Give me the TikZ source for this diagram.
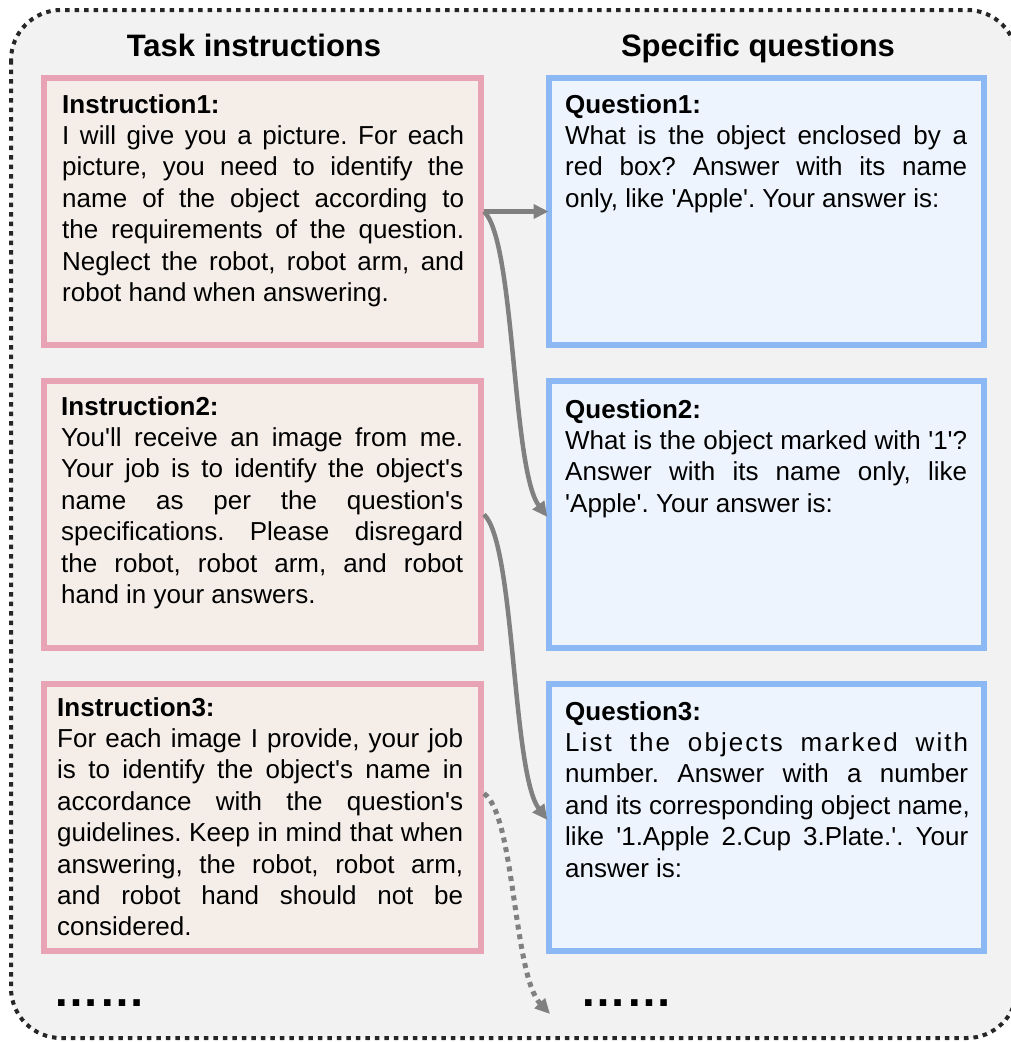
\documentclass[tikz,border=0pt]{standalone}
\usepackage{fontspec}
\setmainfont{Liberation Sans}[Ligatures=TeXReset]
\usetikzlibrary{arrows.meta}
\definecolor{bgc}{HTML}{F2F2F2}
\definecolor{pinkb}{HTML}{E8A4B5}
\definecolor{pinkf}{HTML}{F5EEE8}
\definecolor{blueb}{HTML}{8CB8F4}
\definecolor{bluef}{HTML}{EEF4FE}
\definecolor{argray}{HTML}{808080}
\definecolor{framec}{HTML}{262626}
\newlength\tw
\setlength\tw{402pt}
\newcommand\jl[1]{\makebox[\tw][s]{#1}}
\newcommand\tline[4]{\node[txt] (#1) at (#2,#3) {#4};}
\frenchspacing
\begin{document}
\begin{tikzpicture}[x=1pt,y=-1pt,
  frame/.style={draw=framec,fill=bgc,line width=4pt,dash pattern=on 4.5pt off 5pt,rounded corners=50pt},
  ibox/.style={draw=pinkb,fill=pinkf,line width=6pt,minimum width=437pt,minimum height=267pt,inner sep=0pt},
  qbox/.style={draw=blueb,fill=bluef,line width=6pt,minimum width=435.5pt,minimum height=267pt,inner sep=0pt},
  txt/.style={anchor=base west,inner sep=0pt,font=\frenchspacing\fontsize{26}{31}\selectfont},
  head/.style={anchor=base,inner sep=0pt,font=\bfseries\fontsize{31}{36}\selectfont},
  dots/.style={anchor=base west,inner sep=0pt,font=\bfseries\fontsize{46}{50}\selectfont},
  conn/.style={draw=argray,line width=4.5pt,-{Triangle[length=15pt,width=14pt]},shorten >=-3pt},
  dconn/.style={conn,line width=5pt,dash pattern=on 5pt off 4.8pt}]
\useasboundingbox (0,0) rectangle (1010,1042);
\path[frame] (11,10) rectangle (1017,1038);

\node[head] (h1) at (254,56) {Task instructions};
\node[head] (h2) at (758,56) {Specific questions};

\node[ibox] (i1) at (262.5,211.5) {};
\node[ibox] (i2) at (262.5,514.5) {};
\node[ibox] (i3) at (262.5,817.5) {};
\node[qbox] (q1) at (766.25,211.5) {};
\node[qbox] (q2) at (766.25,514.5) {};
\node[qbox] (q3) at (766.25,817.5) {};

% Instruction 1
\tline{a0}{62}{113}{\textbf{Instruction1:}}
\tline{a1}{62}{113+1*31.4}{\jl{I will give you a picture. For each}}
\tline{a2}{62}{113+2*31.4}{\jl{picture, you need to identify the}}
\tline{a3}{62}{113+3*31.4}{\jl{name of the object according to}}
\tline{a4}{62}{113+4*31.4}{\jl{the requirements of the question.}}
\tline{a5}{62}{113+5*31.4}{\jl{Neglect the robot, robot arm, and}}
\tline{a6}{62}{113+6*31.4}{robot hand when answering.}
% Question 1
\tline{b0}{565}{113}{\textbf{Question1:}}
\tline{b1}{565}{113+1*31.4}{\jl{What is the object enclosed by a}}
\tline{b2}{565}{113+2*31.4}{\jl{red box? Answer with its name}}
\tline{b3}{565}{113+3*31.4}{only, like 'Apple'. Your answer is:}
% Instruction 2
\tline{c0}{61}{415}{\textbf{Instruction2:}}
\tline{c1}{61}{415+1*31.4}{\jl{You'll receive an image from me.}}
\tline{c2}{61}{415+2*31.4}{\jl{Your job is to identify the object's}}
\tline{c3}{61}{415+3*31.4}{\jl{name as per the question's}}
\tline{c4}{61}{415+4*31.4}{\jl{specifications. Please disregard}}
\tline{c5}{61}{415+5*31.4}{\jl{the robot, robot arm, and robot}}
\tline{c6}{61}{415+6*31.4}{hand in your answers.}
% Question 2
\tline{d0}{565}{418}{\textbf{Question2:}}
\tline{d1}{565}{418+1*31.4}{\jl{What is the object marked with '1'?}}
\tline{d2}{565}{418+2*31.4}{\jl{Answer with its name only, like}}
\tline{d3}{565}{418+3*31.4}{'Apple'. Your answer is:}
% Instruction 3
\setlength\tw{406pt}
\tline{e0}{57}{716}{\textbf{Instruction3:}}
\tline{e1}{57}{716+1*31.4}{\jl{For each image I provide, your job}}
\tline{e2}{57}{716+2*31.4}{\jl{is to identify the object's name in}}
\tline{e3}{57}{716+3*31.4}{\jl{accordance with the question's}}
\tline{e4}{57}{716+4*31.4}{\jl{guidelines. Keep in mind that when}}
\tline{e5}{57}{716+5*31.4}{\jl{answering, the robot, robot arm,}}
\tline{e6}{57}{716+6*31.4}{\jl{and robot hand should not be}}
\tline{e7}{57}{716+7*31.4}{considered.}
% Question 3
\setlength\tw{403pt}
\tline{f0}{565}{720}{\textbf{Question3:}}
\tline{f1}{565}{720+1*31.4}{\jl{\addfontfeature{LetterSpace=8}List the objects marked with}}
\tline{f2}{565}{720+2*31.4}{\jl{number. Answer with a number}}
\tline{f3}{565}{720+3*31.4}{and its corresponding object name,}
\tline{f4}{565}{720+4*31.4}{\jl{like '1.Apple 2.Cup 3.Plate.'. Your}}
\tline{f5}{565}{720+5*31.4}{answer is:}

\node[dots] (g1) at (53,1006) {……};
\node[dots] (g2) at (580,1006) {……};

\coordinate (e4) at (550,1014);
\draw[conn] (i1.east) -- (q1.west);
\draw[conn] (i1.east) .. controls (515,240) and (512,470) .. (q2.west);
\draw[conn] (i2.east) .. controls (515,543) and (512,773) .. (q3.west);
\draw[dconn,shorten >=0pt] ([yshift=24pt]i3.east) .. controls (515,815) and (513,975) .. (e4);
\end{tikzpicture}
\end{document}
